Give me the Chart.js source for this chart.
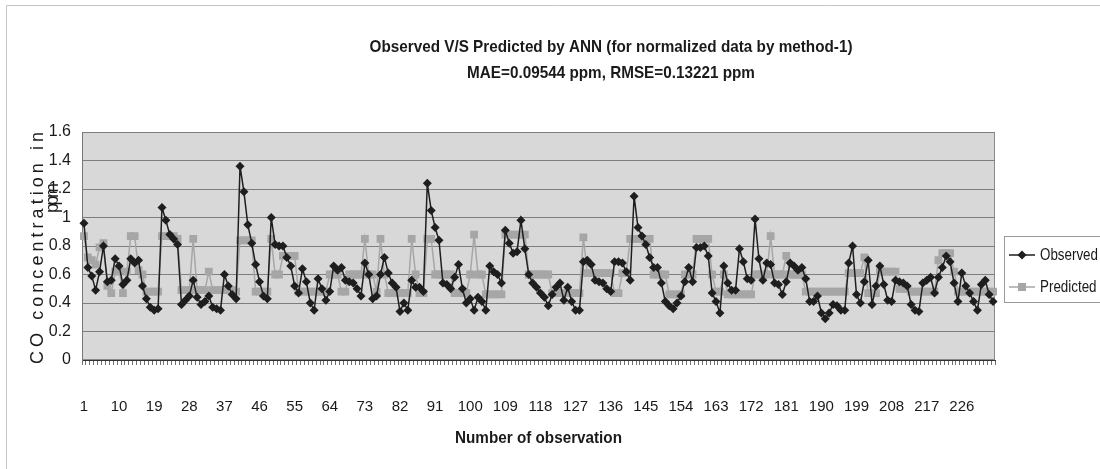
<!DOCTYPE html>
<html>
<head>
<meta charset="utf-8">
<script src="https://cdn.jsdelivr.net/npm/chart.js@4.4.1/dist/chart.umd.min.js"></script>
<style>
  html, body { margin: 0; padding: 0; background: #fff; }
  #wrap { position: relative; width: 1100px; height: 469px; }
</style>
</head>
<body>
<div id="wrap"><canvas id="coChart" width="1100" height="469"></canvas></div>
<script>
// CO concentration, observed vs ANN predicted (ppm)
const observed = [
  0.96, 0.65, 0.59, 0.49, 0.62, 0.80, 0.55, 0.56, 0.71, 0.66,
  0.53, 0.56, 0.71, 0.68, 0.70, 0.52, 0.43, 0.37, 0.35, 0.36,
  1.07, 0.98, 0.88, 0.85, 0.81, 0.39, 0.42, 0.45, 0.56, 0.44,
  0.39, 0.41, 0.45, 0.37, 0.36, 0.35, 0.60, 0.52, 0.46, 0.43,
  1.36, 1.18, 0.95, 0.82, 0.67, 0.55, 0.45, 0.43, 1.00, 0.81,
  0.80, 0.80, 0.72, 0.66, 0.52, 0.47, 0.64, 0.55, 0.40, 0.35,
  0.57, 0.50, 0.42, 0.48, 0.66, 0.63, 0.65, 0.56, 0.55, 0.54,
  0.50, 0.45, 0.68, 0.60, 0.43, 0.45, 0.60, 0.72, 0.61, 0.54,
  0.51, 0.34, 0.40, 0.35, 0.56, 0.51, 0.51, 0.48, 1.24, 1.05,
  0.93, 0.84, 0.54, 0.53, 0.50, 0.58, 0.67, 0.50, 0.40, 0.43,
  0.35, 0.44, 0.41, 0.35, 0.66, 0.62, 0.60, 0.54, 0.91, 0.82,
  0.75, 0.76, 0.98, 0.78, 0.60, 0.54, 0.51, 0.47, 0.44, 0.38,
  0.46, 0.51, 0.54, 0.42, 0.51, 0.41, 0.35, 0.35, 0.69, 0.70,
  0.67, 0.56, 0.55, 0.54, 0.50, 0.48, 0.69, 0.69, 0.68, 0.62,
  0.56, 1.15, 0.93, 0.87, 0.81, 0.72, 0.65, 0.65, 0.54, 0.41,
  0.38, 0.36, 0.40, 0.45, 0.55, 0.65, 0.55, 0.79, 0.79, 0.80,
  0.73, 0.47, 0.41, 0.33, 0.66, 0.54, 0.49, 0.49, 0.78, 0.69,
  0.57, 0.56, 0.99, 0.71, 0.56, 0.68, 0.67, 0.54, 0.53, 0.46,
  0.55, 0.68, 0.66, 0.63, 0.65, 0.57, 0.41, 0.41, 0.45, 0.33,
  0.29, 0.33, 0.39, 0.38, 0.35, 0.35, 0.68, 0.80, 0.46, 0.40,
  0.55, 0.70, 0.39, 0.52, 0.66, 0.53, 0.42, 0.41, 0.56, 0.55,
  0.54, 0.52, 0.39, 0.35, 0.34, 0.54, 0.56, 0.58, 0.47, 0.58,
  0.65, 0.73, 0.69, 0.54, 0.41, 0.61, 0.52, 0.47, 0.41, 0.35,
  0.53, 0.56, 0.46, 0.41
];

const predicted = [
  0.87, 0.72, 0.70, 0.67, 0.79, 0.82, 0.52, 0.47, 0.62, 0.63,
  0.47, 0.62, 0.87, 0.87, 0.63, 0.60, 0.48, 0.48, 0.48, 0.48,
  0.87, 0.87, 0.87, 0.87, 0.85, 0.49, 0.49, 0.49, 0.85, 0.49,
  0.49, 0.49, 0.62, 0.49, 0.49, 0.49, 0.49, 0.49, 0.49, 0.48,
  0.84, 0.84, 0.84, 0.84, 0.48, 0.48, 0.48, 0.48, 0.85, 0.60,
  0.60, 0.73, 0.73, 0.73, 0.73, 0.48, 0.48, 0.48, 0.48, 0.48,
  0.48, 0.48, 0.48, 0.60, 0.60, 0.60, 0.48, 0.48, 0.60, 0.60,
  0.60, 0.60, 0.85, 0.60, 0.60, 0.48, 0.85, 0.60, 0.47, 0.47,
  0.47, 0.47, 0.47, 0.47, 0.85, 0.60, 0.47, 0.47, 0.85, 0.85,
  0.60, 0.60, 0.60, 0.60, 0.60, 0.47, 0.47, 0.47, 0.47, 0.60,
  0.88, 0.60, 0.60, 0.46, 0.46, 0.46, 0.46, 0.46, 0.88, 0.88,
  0.88, 0.88, 0.88, 0.88, 0.60, 0.60, 0.60, 0.60, 0.60, 0.60,
  0.47, 0.47, 0.47, 0.47, 0.47, 0.47, 0.47, 0.47, 0.86, 0.61,
  0.61, 0.61, 0.61, 0.61, 0.61, 0.61, 0.47, 0.47, 0.61, 0.61,
  0.85, 0.85, 0.85, 0.85, 0.85, 0.85, 0.60, 0.60, 0.60, 0.60,
  0.46, 0.46, 0.46, 0.46, 0.60, 0.60, 0.60, 0.85, 0.85, 0.85,
  0.85, 0.60, 0.48, 0.48, 0.60, 0.46, 0.46, 0.46, 0.46, 0.46,
  0.46, 0.46, 0.60, 0.60, 0.60, 0.60, 0.87, 0.60, 0.60, 0.60,
  0.73, 0.60, 0.60, 0.60, 0.60, 0.48, 0.48, 0.48, 0.48, 0.48,
  0.48, 0.48, 0.48, 0.48, 0.48, 0.48, 0.61, 0.61, 0.61, 0.61,
  0.72, 0.47, 0.47, 0.47, 0.62, 0.62, 0.62, 0.62, 0.62, 0.50,
  0.50, 0.50, 0.48, 0.48, 0.48, 0.48, 0.48, 0.48, 0.48, 0.70,
  0.75, 0.75, 0.75, 0.62, 0.48, 0.48, 0.48, 0.48, 0.48, 0.48,
  0.48, 0.48, 0.48, 0.48
];

// observation numbers on the category axis, and the ones that get a label
const observations = Array.from({ length: observed.length }, (_, i) => i + 1);
const shownTicks = [1, 10, 19, 28, 37, 46, 55, 64, 73, 82, 91, 100, 109, 118, 127,
  136, 145, 154, 163, 172, 181, 190, 199, 208, 217, 226];
const yTicks = [0, 0.2, 0.4, 0.6, 0.8, 1, 1.2, 1.4, 1.6];

const titleLines = ["Observed V/S Predicted by ANN (for normalized data by method-1)",
  "MAE=0.09544 ppm, RMSE=0.13221 ppm"];
const xTitle = "Number of observation";
const yTitleLines = ["CO concentration in", "ppm"];
const seriesNames = ["Observed", "Predicted"];

const SANS = "'Liberation Sans', Arial, sans-serif";
const OBS_COLOR = "#1e1e1e";
const PRED_COLOR = "#a6a6a6";

// text squeezed sideways (the original uses a narrow face)
function drawNarrow(ctx, text, x, y, font, sx, align) {
  ctx.save();
  ctx.font = font;
  ctx.textAlign = align || "center";
  ctx.translate(x, y);
  ctx.scale(sx, 1);
  ctx.fillText(text, 0, 0);
  ctx.restore();
}

function squeezeFor(ctx, text, font, width) {
  ctx.save();
  ctx.font = font;
  const w = ctx.measureText(text).width;
  ctx.restore();
  return width / w;
}

// draw text with even letter gaps so it spans a given length
function drawSpaced(ctx, text, cx, cy, length) {
  const widths = [...text].map(ch => ctx.measureText(ch).width);
  const natural = widths.reduce((a, b) => a + b, 0);
  const gap = (length - natural) / (text.length - 1);
  let x = cx - length / 2;
  ctx.textAlign = "left";
  [...text].forEach((ch, i) => {
    ctx.fillText(ch, x, cy);
    x += widths[i] + gap;
  });
}

const decorations = {
  id: "decorations",
  beforeDraw(chart) {
    const { ctx, chartArea: a } = chart;
    ctx.save();
    ctx.fillStyle = "#fff";
    ctx.fillRect(0, 0, chart.width, chart.height);
    // outer frame
    ctx.strokeStyle = "#c4c4c4";
    ctx.lineWidth = 1;
    ctx.beginPath();
    ctx.moveTo(6.5, chart.height);
    ctx.lineTo(6.5, 5.5);
    ctx.lineTo(chart.width, 5.5);
    ctx.stroke();
    // plot area
    ctx.fillStyle = "#d8d8d8";
    ctx.fillRect(a.left, a.top, a.right - a.left, a.bottom - a.top);
    ctx.strokeStyle = "#8a8a8a";
    ctx.strokeRect(a.left + 0.5, a.top + 0.5, a.right - a.left - 1, a.bottom - a.top - 1);
    ctx.restore();
  },
  afterDraw(chart) {
    const { ctx, chartArea: a } = chart;
    ctx.save();
    ctx.fillStyle = "#1a1a1a";
    ctx.textBaseline = "middle";

    // main title
    const tFont = `bold 17px ${SANS}`;
    const tsx = squeezeFor(ctx, titleLines[0], tFont, 483);
    drawNarrow(ctx, titleLines[0], 611, 47, tFont, tsx);
    drawNarrow(ctx, titleLines[1], 611, 73, tFont, tsx);

    // x axis title
    const xFont = `bold 17px ${SANS}`;
    drawNarrow(ctx, xTitle, (a.left + a.right) / 2, 438, xFont, squeezeFor(ctx, xTitle, xFont, 167));

    // y axis title, rotated, widely spaced
    ctx.font = `18px ${SANS}`;
    ctx.save();
    ctx.translate(38, 248);
    ctx.rotate(-Math.PI / 2);
    drawSpaced(ctx, yTitleLines[0], 0, 0, 232);
    ctx.restore();
    ctx.save();
    ctx.translate(53, 198);
    ctx.rotate(-Math.PI / 2);
    drawSpaced(ctx, yTitleLines[1], 0, 0, 30);
    ctx.restore();

    // legend box
    const lx = 1004, ly = 236;
    ctx.fillStyle = "#fff";
    ctx.fillRect(lx, ly, 110, 66);
    ctx.strokeStyle = "#9a9a9a";
    ctx.lineWidth = 1;
    ctx.strokeRect(lx + 0.5, ly + 0.5, 110, 66);
    const rows = [
      { name: seriesNames[0], color: OBS_COLOR, y: 255, marker: "diamond" },
      { name: seriesNames[1], color: PRED_COLOR, y: 287, marker: "square" }
    ];
    const lFont = `16px ${SANS}`;
    const lsx = squeezeFor(ctx, seriesNames[0], lFont, 58);
    rows.forEach(r => {
      ctx.strokeStyle = r.color;
      ctx.fillStyle = r.color;
      ctx.lineWidth = 1.5;
      ctx.beginPath();
      ctx.moveTo(1009, r.y);
      ctx.lineTo(1035, r.y);
      ctx.stroke();
      ctx.beginPath();
      if (r.marker === "diamond") {
        ctx.moveTo(1022, r.y - 4.5);
        ctx.lineTo(1026.5, r.y);
        ctx.lineTo(1022, r.y + 4.5);
        ctx.lineTo(1017.5, r.y);
        ctx.closePath();
      } else {
        ctx.rect(1018, r.y - 4, 8, 8);
      }
      ctx.fill();
      ctx.fillStyle = "#1a1a1a";
      drawNarrow(ctx, r.name, 1040, r.y + 1, lFont, lsx, "left");
    });
    ctx.restore();
  }
};

const ctx = document.getElementById("coChart").getContext("2d");
new Chart(ctx, {
  type: "line",
  data: {
    labels: observations,
    datasets: [
      {
        label: seriesNames[0],
        data: observed,
        order: 0,
        borderColor: OBS_COLOR,
        backgroundColor: OBS_COLOR,
        borderWidth: 1.5,
        pointStyle: "rectRot",
        pointRadius: 4.5,
        pointBorderWidth: 0,
        pointBackgroundColor: OBS_COLOR,
        tension: 0
      },
      {
        label: seriesNames[1],
        data: predicted,
        order: 1,
        borderColor: PRED_COLOR,
        backgroundColor: PRED_COLOR,
        borderWidth: 1.5,
        pointStyle: "rect",
        pointRadius: 5.5,
        pointBorderWidth: 0,
        pointBackgroundColor: PRED_COLOR,
        tension: 0
      }
    ]
  },
  options: {
    responsive: false,
    animation: false,
    events: [],
    layout: { padding: { top: 132, right: 105, bottom: 0, left: 0 } },
    plugins: {
      legend: { display: false },
      title: { display: false },
      tooltip: { enabled: false }
    },
    scales: {
      x: {
        offset: true,
        afterFit: scale => { scale.height = 109; },
        grid: {
          offset: true,
          drawOnChartArea: false,
          drawTicks: true,
          tickLength: 5,
          color: "#707070"
        },
        border: { display: true, color: "#333", width: 1 },
        ticks: {
          autoSkip: false,
          maxRotation: 0,
          minRotation: 0,
          padding: 33,
          color: "#1a1a1a",
          font: { family: SANS, size: 15 },
          callback: function (value) {
            const n = observations[value];
            return shownTicks.includes(n) ? String(n) : "";
          }
        }
      },
      y: {
        min: yTicks[0],
        max: yTicks[yTicks.length - 1],
        afterFit: scale => { scale.width = 82; },
        afterBuildTicks: scale => { scale.ticks = yTicks.map(v => ({ value: v })); },
        grid: { color: "#7e7e7e", lineWidth: 1, drawTicks: false },
        border: { display: true, color: "#777" },
        ticks: {
          padding: 11,
          color: "#1a1a1a",
          font: { family: SANS, size: 16 },
          callback: v => String(+v.toFixed(1))
        }
      }
    }
  },
  plugins: [decorations]
});
</script>
</body>
</html>
